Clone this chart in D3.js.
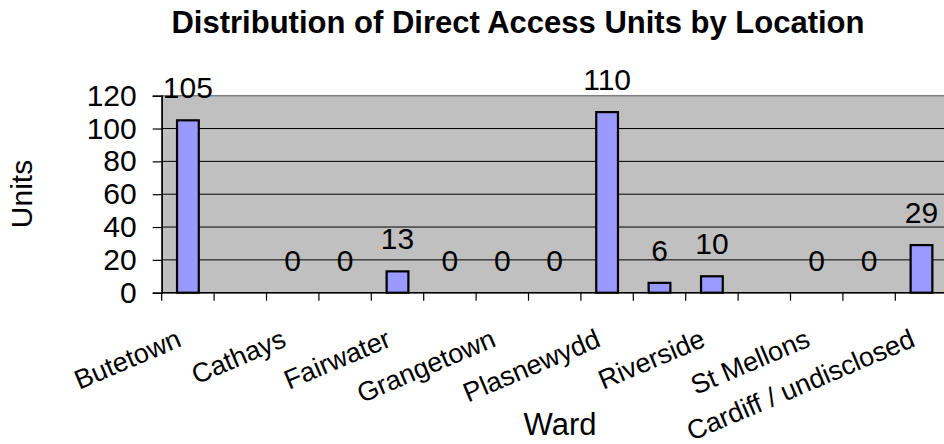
<!DOCTYPE html>
<html>
<head>
<meta charset="utf-8">
<script src="https://cdn.jsdelivr.net/npm/d3@7"></script>
<style>
  html, body { margin: 0; padding: 0; background: #fff; }
  svg { display: block; }
  text { font-family: "Liberation Sans", Arial, sans-serif; fill: #000; }
</style>
</head>
<body>
<script>
// ---- data ----
const wards = ["Butetown", "Canton", "Cathays", "Ely", "Fairwater", "Gabalfa", "Grangetown",
  "Llanishen", "Plasnewydd", "Rhiwbina", "Riverside", "Splott", "St Mellons", "Whitchurch",
  "Cardiff / undisclosed"];
const units = [105, null, 0, 0, 13, 0, 0, 0, 110, 6, 10, null, 0, 0, 29];
const yTicks = [0, 20, 40, 60, 80, 100, 120];
const chartTitle = "Distribution of Direct Access Units by Location";
const yTitle = "Units";
const xTitle = "Ward";

// ---- layout ----
const W = 944, H = 444;
const plot = { left: 161.7, right: 947.7, top: 95.7, bottom: 292.7 };

const svg = d3.select("body").append("svg").attr("width", W).attr("height", H);

const x = d3.scaleBand().domain(wards).range([plot.left, plot.right]).padding(0);
const y = d3.scaleLinear().domain([0, 120]).range([plot.bottom, plot.top]);

// plot area background
svg.append("rect")
  .attr("x", plot.left).attr("y", plot.top)
  .attr("width", plot.right - plot.left).attr("height", plot.bottom - plot.top)
  .attr("fill", "#c0c0c0").attr("stroke", "#808080").attr("stroke-width", 1.5);

// gridlines
svg.append("g").selectAll("line").data(yTicks.filter(t => t > 0 && t < 120)).join("line")
  .attr("x1", plot.left).attr("x2", plot.right)
  .attr("y1", d => y(d)).attr("y2", d => y(d))
  .attr("stroke", "#000").attr("stroke-width", 1);

// bars
const barW = x.bandwidth() * 0.415;
svg.append("g").selectAll("rect")
  .data(wards.map((w, i) => ({ w, v: units[i] })).filter(d => d.v != null && d.v > 0))
  .join("rect")
  .attr("x", d => x(d.w) + x.bandwidth() / 2 - barW / 2)
  .attr("y", d => y(d.v))
  .attr("width", barW)
  .attr("height", d => y(0) - y(d.v))
  .attr("fill", "#9999ff").attr("stroke", "#000").attr("stroke-width", 2.2);

// value labels
svg.append("g").selectAll("text")
  .data(wards.map((w, i) => ({ w, v: units[i] })).filter(d => d.v != null))
  .join("text")
  .attr("x", d => x(d.w) + x.bandwidth() / 2)
  .attr("y", d => y(d.v) - 22)
  .attr("text-anchor", "middle")
  .attr("font-size", 30)
  .text(d => d.v);

// y axis
const yAxis = svg.append("g").attr("transform", `translate(${plot.left},0)`)
  .call(d3.axisLeft(y).tickValues(yTicks).tickSize(9).tickPadding(16).tickFormat(d3.format("d")));
yAxis.select(".domain").attr("stroke", "#000").attr("stroke-width", 1.5);
yAxis.selectAll(".tick line").attr("stroke", "#000").attr("stroke-width", 1.2);
yAxis.selectAll(".tick text").attr("font-size", 30).attr("font-family", null).attr("fill", "#000");

// x axis (ticks at category boundaries)
const xg = svg.append("g").attr("transform", `translate(0,${plot.bottom})`);
xg.append("line").attr("x1", plot.left).attr("x2", plot.right)
  .attr("y1", 0).attr("y2", 0).attr("stroke", "#000").attr("stroke-width", 1.5);
xg.selectAll("line.tk").data(wards.concat(["__end"])).join("line").attr("class", "tk")
  .attr("x1", (d, i) => i < wards.length ? x(d) : plot.right)
  .attr("x2", (d, i) => i < wards.length ? x(d) : plot.right)
  .attr("y1", 0).attr("y2", 8).attr("stroke", "#000").attr("stroke-width", 1.2);

// category labels (every other one shown, as in the original)
xg.selectAll("text").data(wards.filter((w, i) => i % 2 === 0)).join("text")
  .attr("transform", d => `translate(${x(d) + x.bandwidth() / 2 - 5},${53}) rotate(-23)`)
  .attr("text-anchor", "end")
  .attr("font-size", 27)
  .text(d => d);

// titles
svg.append("text").attr("x", 518).attr("y", 33).attr("text-anchor", "middle")
  .attr("font-size", 31).attr("font-weight", "bold").text(chartTitle);
svg.append("text").attr("transform", `translate(32,194) rotate(-90)`)
  .attr("text-anchor", "middle").attr("font-size", 30).text(yTitle);
svg.append("text").attr("x", 560).attr("y", 435).attr("text-anchor", "middle")
  .attr("font-size", 31).text(xTitle);
</script>
</body>
</html>
